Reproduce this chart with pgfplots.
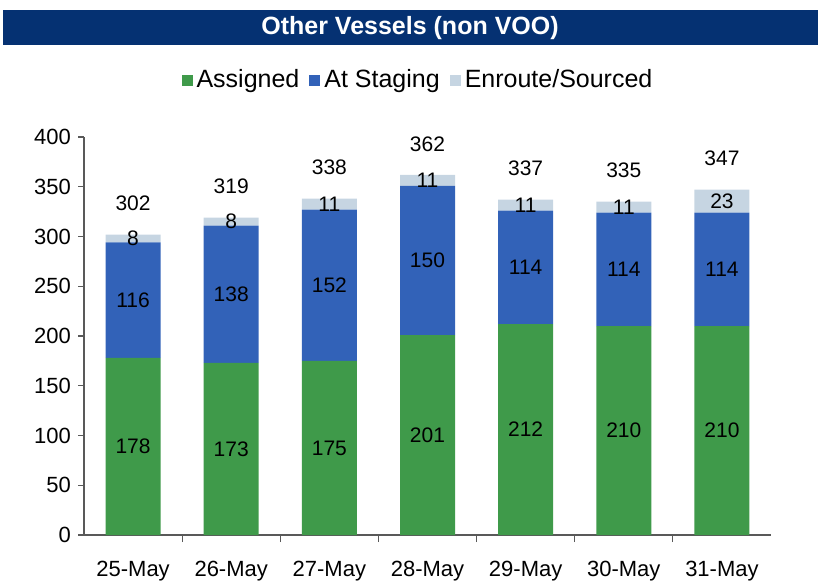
\documentclass[border=0pt]{standalone}
\usepackage{fontspec}
\setmainfont{Liberation Sans}
\usepackage{pgfplots}
\usepackage{pgfplotstable}
\pgfplotsset{compat=1.18}

\definecolor{navy}{HTML}{053172}
\definecolor{assigned}{HTML}{3F9A4A}
\definecolor{staging}{HTML}{3262B8}
\definecolor{enroute}{HTML}{C6D5E2}

% values per day
\pgfplotstableread{
x a   b   c
0 178 116 8
1 173 138 8
2 175 152 11
3 201 150 11
4 212 114 11
5 210 114 11
6 210 114 23
}\vessels

% label positions (segment mid points) and totals
\pgfplotstableread{
x ya    yb  yc    yt  a   b   c  t
0 89    236 298   302 178 116 8  302
1 86.5  242 315   319 173 138 8  319
2 87.5  251 332.5 338 175 152 11 338
3 100.5 276 356.5 362 201 150 11 362
4 106   269 331.5 337 212 114 11 337
5 105   267 329.5 335 210 114 11 335
6 105   267 335.5 347 210 114 23 347
}\labels

\newcommand\lbl{\fontsize{10.5}{12}\selectfont}

\begin{document}
\begin{tikzpicture}[x=1pt,y=1pt]
\pgfplotsset{base/.style={
  width=343.5pt, height=199pt, scale only axis,
  xmin=-0.5, xmax=6.5, ymin=0, ymax=400,
  at={(0,0)}, anchor=south west}}

\fill[navy] (-40.5,245) rectangle (367,262.5);
\node[text=white, font=\fontsize{12.5}{14}\selectfont\bfseries] at (163,253.5) {Other Vessels (non VOO)};

\begin{axis}[base, ybar stacked, bar width=27.5pt,
  axis lines*=left,
  axis line style={black!65, line width=0.6pt},
  tick style={black!65, line width=0.6pt},
  tick align=outside, major tick length=3pt,
  ytick={0,50,...,400},
  xtick={0,...,6},
  xticklabels={25-May,26-May,27-May,28-May,29-May,30-May,31-May},
  x tick style={draw=none},
  minor xtick={0.5,1.5,...,5.5},
  minor x tick style={draw=black!65},
  minor tick length=3.5pt,
  /pgf/number format/assume math mode=true,
  yticklabel style={font=\fontsize{11}{13}\selectfont},
  xticklabel style={font=\fontsize{11}{13}\selectfont, yshift=-6.5pt},
  legend columns=3,
  legend style={draw=none, fill=none, font=\fontsize{12.5}{14}\selectfont,
    at={(0.4876,1.143)}, anchor=center,
    /tikz/every even column/.append style={column sep=3pt}},
  legend image code/.code={\fill[#1] (0pt,-2.75pt) rectangle (5.5pt,2.75pt);},
]
\addplot[fill=assigned, draw=none] table[x=x, y=a] {\vessels};
\addplot[fill=staging, draw=none] table[x=x, y=b] {\vessels};
\addplot[fill=enroute, draw=none] table[x=x, y=c] {\vessels};
\legend{Assigned, At Staging, Enroute/Sourced}
\end{axis}

\begin{axis}[base, hide axis,
  every node near coord/.append style={anchor=center, font=\lbl, text=black}]
\addplot[draw=none, nodes near coords, point meta=explicit symbolic] table[x=x, y=ya, meta=a] {\labels};
\addplot[draw=none, nodes near coords, point meta=explicit symbolic] table[x=x, y=yb, meta=b] {\labels};
\addplot[draw=none, nodes near coords, point meta=explicit symbolic] table[x=x, y=yc, meta=c] {\labels};
\addplot[draw=none, nodes near coords, point meta=explicit symbolic,
  every node near coord/.append style={yshift=15.5pt}] table[x=x, y=yt, meta=t] {\labels};
\end{axis}

\pgfresetboundingbox
\useasboundingbox (-42,-24.5) rectangle (367,267.5);
\end{tikzpicture}
\end{document}
